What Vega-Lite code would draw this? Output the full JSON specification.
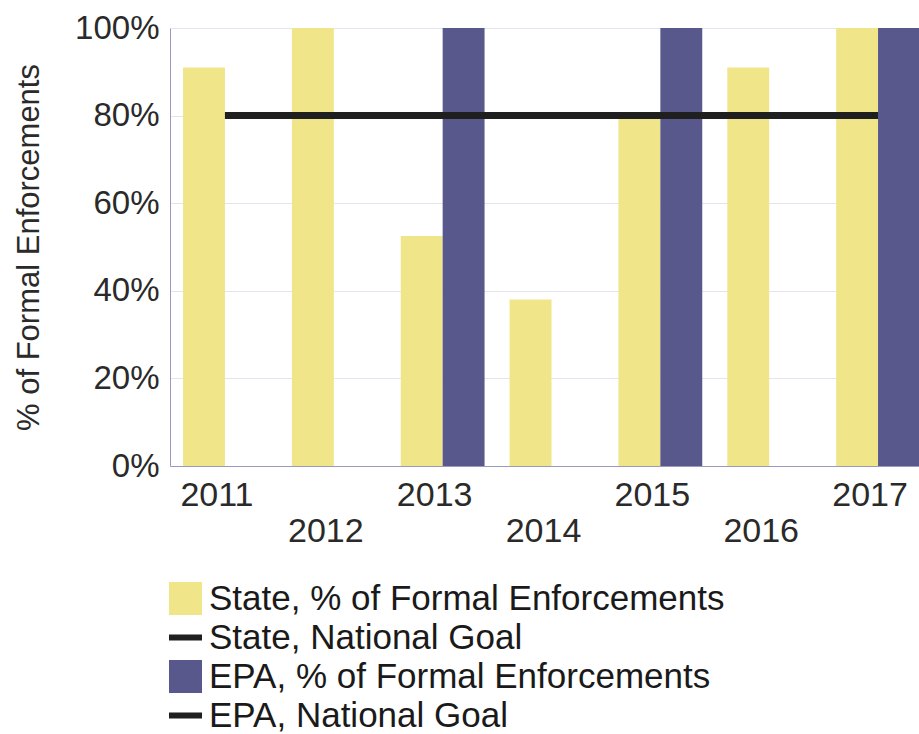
{
  "$schema": "https://vega.github.io/schema/vega-lite/v6.json",
  "width": 763,
  "height": 438,
  "autosize": {"type": "none"},
  "padding": {"left": 170, "top": 28, "right": 0, "bottom": 268},
  "background": "white",
  "config": {"font": "Liberation Sans", "view": {"stroke": null}},
  "datasets": {
    "bars": [
      {"year": "2011", "series": "State, % of Formal Enforcements", "value": 0.91},
      {"year": "2012", "series": "State, % of Formal Enforcements", "value": 1.0},
      {"year": "2013", "series": "State, % of Formal Enforcements", "value": 0.525},
      {"year": "2014", "series": "State, % of Formal Enforcements", "value": 0.38},
      {"year": "2015", "series": "State, % of Formal Enforcements", "value": 0.8},
      {"year": "2016", "series": "State, % of Formal Enforcements", "value": 0.91},
      {"year": "2017", "series": "State, % of Formal Enforcements", "value": 1.0},
      {"year": "2013", "series": "EPA, % of Formal Enforcements", "value": 1.0},
      {"year": "2015", "series": "EPA, % of Formal Enforcements", "value": 1.0},
      {"year": "2017", "series": "EPA, % of Formal Enforcements", "value": 1.0}
    ],
    "goal": [
      {"year": "2011", "series": "State, National Goal", "value": 0.8},
      {"year": "2012", "series": "State, National Goal", "value": 0.8},
      {"year": "2013", "series": "State, National Goal", "value": 0.8},
      {"year": "2014", "series": "State, National Goal", "value": 0.8},
      {"year": "2015", "series": "State, National Goal", "value": 0.8},
      {"year": "2016", "series": "State, National Goal", "value": 0.8},
      {"year": "2017", "series": "State, National Goal", "value": 0.8},
      {"year": "2011", "series": "EPA, National Goal", "value": 0.8},
      {"year": "2012", "series": "EPA, National Goal", "value": 0.8},
      {"year": "2013", "series": "EPA, National Goal", "value": 0.8},
      {"year": "2014", "series": "EPA, National Goal", "value": 0.8},
      {"year": "2015", "series": "EPA, National Goal", "value": 0.8},
      {"year": "2016", "series": "EPA, National Goal", "value": 0.8},
      {"year": "2017", "series": "EPA, National Goal", "value": 0.8}
    ]
  },
  "layer": [
    {
      "data": {"name": "bars"},
      "mark": {"type": "bar"},
      "encoding": {
        "x": {
          "field": "year", "type": "nominal",
          "scale": {"paddingInner": 0.23, "paddingOuter": 0.12},
          "axis": {
            "title": null, "labelAngle": 0, "labelFontSize": 34, "labelColor": "#2a2a2a",
            "ticks": false, "labelPadding": 12, "domainColor": "#9a9ac0",
            "labelExpr": "toNumber(datum.value) % 2 == 0 ? ['', datum.label] : datum.label",
            "labelLineHeight": 36, "labelOverlap": false, "labelBound": false, "labelOffset": -8
          }
        },
        "xOffset": {"field": "series", "type": "nominal", "scale": {"domain": ["State, % of Formal Enforcements", "EPA, % of Formal Enforcements"]}},
        "y": {
          "field": "value", "type": "quantitative",
          "scale": {"domain": [0, 1]},
          "axis": {
            "format": "%", "values": [0, 0.2, 0.4, 0.6, 0.8, 1],
            "title": "% of Formal Enforcements", "titleFontSize": 31, "titleFontWeight": "normal",
            "titleColor": "#2a2a2a", "titlePadding": 29,
            "labelFontSize": 33, "labelColor": "#2a2a2a", "ticks": false, "labelPadding": 11,
            "grid": true, "gridColor": "#e4e4ee", "domainColor": "#9a9ac0"
          }
        },
        "color": {
          "field": "series", "type": "nominal",
          "scale": {
            "domain": ["State, % of Formal Enforcements", "State, National Goal", "EPA, % of Formal Enforcements", "EPA, National Goal"],
            "range": ["#F1E58A", "#1f1f1f", "#58588C", "#1f1f1f"]
          },
          "legend": {
            "orient": "none", "legendX": -2, "legendY": 553, "title": null, "direction": "vertical",
            "labelFontSize": 35, "labelColor": "#1a1a1a", "labelFont": "Liberation Sans", "labelLimit": 800,
            "symbolSize": 1089, "rowPadding": 3, "labelOffset": 6, "symbolStrokeWidth": 0
          }
        }
      }
    },
    {
      "data": {"name": "goal"},
      "mark": {"type": "line", "color": "#1f1f1f", "strokeWidth": 7},
      "encoding": {
        "x": {"field": "year", "type": "nominal"},
        "y": {"field": "value", "type": "quantitative"},
        "detail": {"field": "series", "type": "nominal"}
      }
    },
    {
      "data": {"name": "goal"},
      "transform": [{"filter": "false"}],
      "mark": {"type": "point", "filled": true, "size": 1089, "opacity": 1},
      "encoding": {
        "x": {"field": "year", "type": "nominal"},
        "y": {"field": "value", "type": "quantitative"},
        "color": {"field": "series", "type": "nominal"},
        "shape": {
          "field": "series", "type": "nominal",
          "scale": {
            "domain": ["State, % of Formal Enforcements", "State, National Goal", "EPA, % of Formal Enforcements", "EPA, National Goal"],
            "range": ["square", "M-1,-0.18H1V0.18H-1Z", "square", "M-1,-0.18H1V0.18H-1Z"]
          },
          "legend": {
            "orient": "none", "legendX": -2, "legendY": 553, "title": null, "direction": "vertical",
            "labelFontSize": 35, "labelColor": "#1a1a1a", "labelFont": "Liberation Sans", "labelLimit": 800,
            "symbolSize": 1089, "rowPadding": 3, "labelOffset": 6, "symbolStrokeWidth": 0
          }
        }
      }
    }
  ]
}
